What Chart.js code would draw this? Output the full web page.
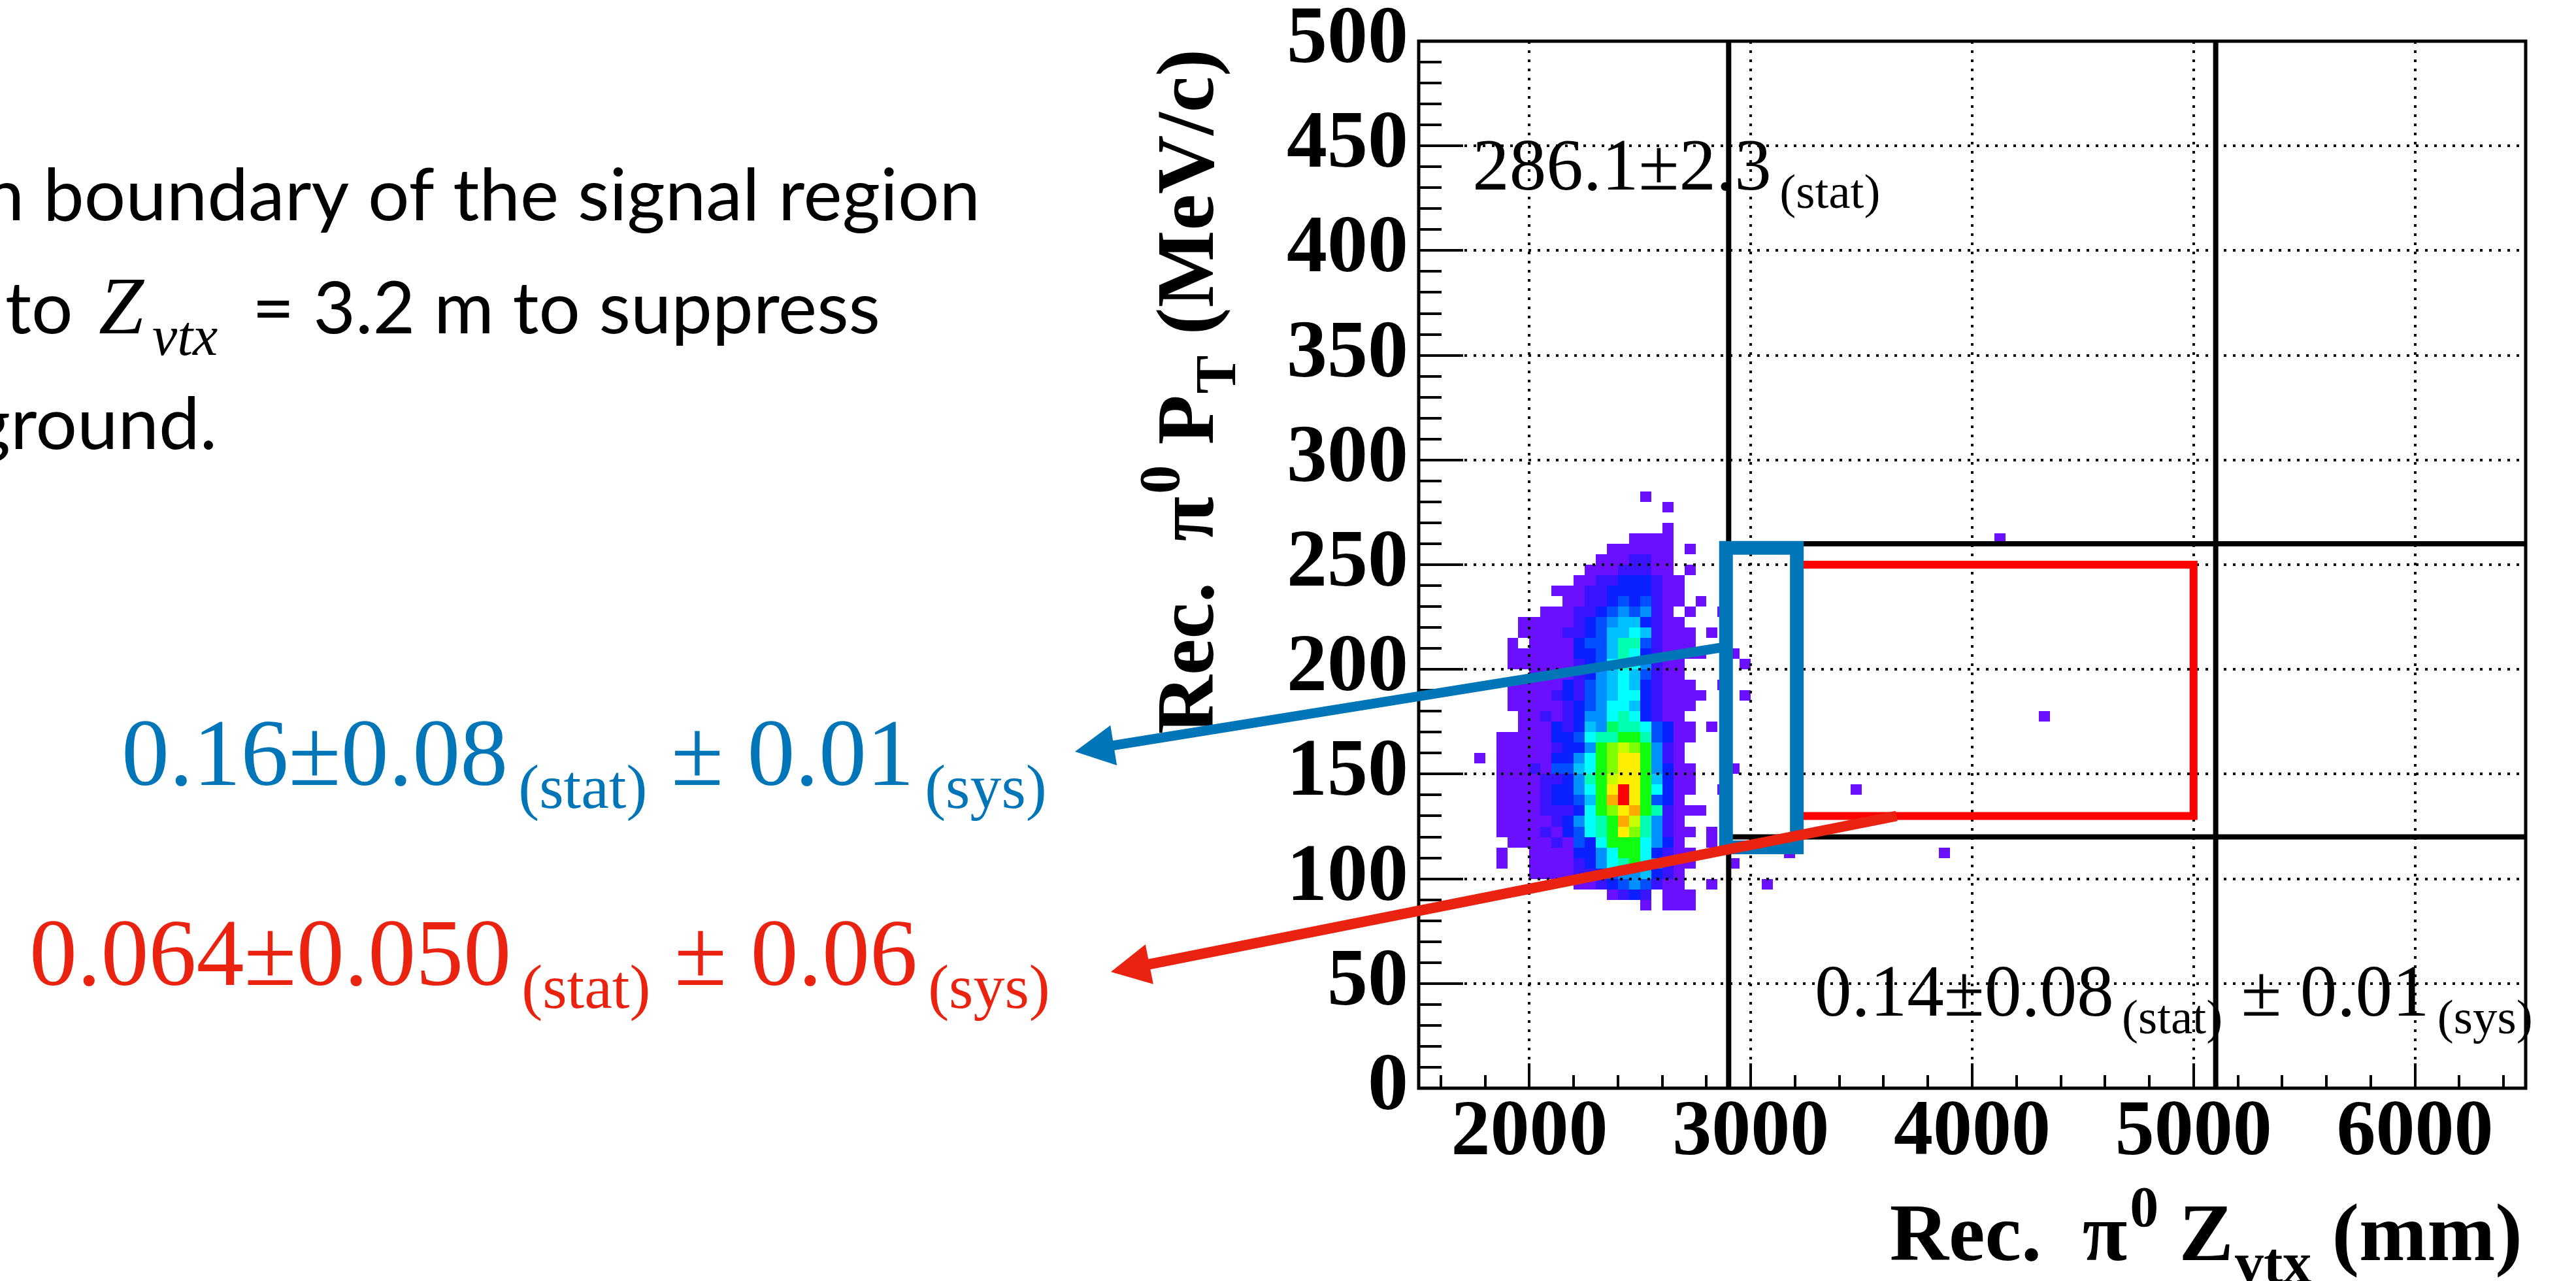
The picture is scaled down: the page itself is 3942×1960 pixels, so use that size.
<!DOCTYPE html>
<html>
<head>
<meta charset="utf-8">
<title>Rec. π0 PT vs Zvtx</title>
<script src="https://cdn.jsdelivr.net/npm/chart.js@4.4.1/dist/chart.umd.min.js"></script>
<style>
  html, body { margin: 0; padding: 0; background: #ffffff; }
  canvas { display: block; }
</style>
</head>
<body>
<canvas id="chart" width="3942" height="1960"></canvas>
<script>
// ---------------- histogram: Rec. pi0 Zvtx (mm) vs Rec. pi0 PT (MeV/c) ----------------
const zRange = [1500, 6500];
const ptRange = [0, 500];
const zBinWidth = 50;        // mm
const ptBinWidth = 5;        // MeV/c
const zFirstEdge = 1750;     // low edge of the first character in each row
const ptTopEdge = 280;       // low edge of the first (top) row

// one string per PT row, top to bottom; '.' = empty bin, '1'..'f' = colour level
const cellRows = [
  "...............1",                 // 280
  ".................1",               // 275
  "",                                 // 270
  ".................1",               // 265
  "..............1111",               // 260
  "............111111.1",             // 255
  "...........1112211",               // 250
  "..........11122211.1",             // 245
  ".........1122333211",              // 240
  ".......111223333211",              // 235
  "........11223434211.1",            // 230
  "......111223454521.1",             // 225
  "....111112345663211",              // 220
  "....1111223466762111.1",           // 215
  "...1.111134468842111",             // 210
  "...111111334687321111",            // 205
  "...1111112347875211",              // 200
  ".....11112356764211",              // 195
  "...11111324567632111",             // 190
  "...111123245677321111",            // 185
  "...11111234577632111",             // 180
  "....112123557873211",              // 175
  "....1113236598874311",             // 170
  "..11111334788aa84311",             // 165
  "..111112335abcba521",              // 160
  "..111113357abdda521",              // 155
  "..111214467abdda5311",             // 150
  "..111122358acdda6311",             // 145
  "..111123357adfda7311",             // 140
  "..111123346aefda431",              // 135
  "..111122237abdea82111",            // 130
  "..1111123578aec8521",              // 125
  "..1111213478adb85211.1",           // 120
  "...111121437aaa7531..1",           // 115
  "..1..11113357aa73211",             // 110
  "..1..111123578a75211",             // 105
  ".....11112234556321",              // 100
  ".........1123454211",              // 95
  "............1232.111",             // 90
  "...............1.111"              // 85
];

// isolated bins away from the main cluster: [Zvtx low edge, PT low edge, level]
const strayCells = [
  [1750, 155, 1], [2800, 170, 1], [2850, 225, 1], [2850, 190, 1], [2850, 140, 1],
  [2900, 205, 1], [2950, 200, 1], [2950, 185, 1], [2900, 150, 1], [2900, 105, 1],
  [2800, 95, 1], [3050, 95, 1], [3150, 110, 1],
  [3450, 140, 1], [3850, 110, 1], [4300, 175, 1], [4100, 260, 1]
];

const levelColours = [
  '#6b10ff', '#3a14ff', '#0a20ff', '#0050ff', '#0090ff', '#00c0ff', '#00ffff',
  '#00ffb0', '#00ff60', '#10ff10', '#80ff00', '#c8ff00', '#ffee00', '#ffaa00', '#ff0000'
];

// ---------------- axes ----------------
const zTickValues = [2000, 3000, 4000, 5000, 6000];
const ptTickValues = [0, 50, 100, 150, 200, 250, 300, 350, 400, 450, 500];
const zMinorStep = 200;
const ptMinorStep = 10;

// ---------------- signal-region cuts and boxes ----------------
const zCuts = [2900, 5100];
const ptCuts = [120, 260];
const redBoxZ = [3200, 5000];
const redBoxPt = [130, 250];
const blueBoxZ = [2888, 3208];
const blueBoxPt = [115, 258];

// ---------------- yields ----------------
const yieldTotal = ['286.1±2.3', '(stat)'];
const yieldOuter = ['0.14±0.08', '(stat)', ' ± 0.01', '(sys)'];
const yieldBlue = ['0.16±0.08', '(stat)', ' ± 0.01', '(sys)'];
const yieldRed = ['0.064±0.050', '(stat)', ' ± 0.06', '(sys)'];

const textLines = [
  'n boundary of the signal region',
  ['to ', 'Z', 'vtx', ' = 3.2 m to suppress'],
  'ground.'
];

const BLUE = '#0075b8';
const RED_BOX = '#ff0000';
const RED_ARROW = '#ea2210';
const SERIF = '"Liberation Serif", "Times New Roman", serif';
const SANS = 'Lato, "Open Sans", sans-serif';

function boxPath(zs, pts) {
  return [
    {x: zs[0], y: pts[1]}, {x: zs[1], y: pts[1]}, {x: zs[1], y: pts[0]},
    {x: zs[0], y: pts[0]}, {x: zs[0], y: pts[1]}
  ];
}

// heat-map cells (drawn first, so the grid and cut lines sit on top)
const heatmapPlugin = {
  id: 'heatmap',
  beforeDraw(chart) {
    const ctx = chart.ctx, xs = chart.scales.x, ys = chart.scales.y, a = chart.chartArea;
    ctx.save();
    ctx.fillStyle = '#ffffff';
    ctx.fillRect(0, 0, chart.width, chart.height);
    ctx.beginPath();
    ctx.rect(a.left, a.top, a.right - a.left, a.bottom - a.top);
    ctx.clip();
    const cell = (z0, pt0, lv) => {
      const x0 = Math.round(xs.getPixelForValue(z0));
      const x1 = Math.round(xs.getPixelForValue(z0 + zBinWidth));
      const y0 = Math.round(ys.getPixelForValue(pt0 + ptBinWidth));
      const y1 = Math.round(ys.getPixelForValue(pt0));
      ctx.fillStyle = levelColours[lv - 1];
      ctx.fillRect(x0, y0, x1 - x0, y1 - y0);
    };
    cellRows.forEach((row, r) => {
      const pt0 = ptTopEdge - r * ptBinWidth;
      for (let c = 0; c < row.length; c++) {
        const ch = row[c];
        if (ch === '.') continue;
        cell(zFirstEdge + c * zBinWidth, pt0, parseInt(ch, 16));
      }
    });
    strayCells.forEach(([z0, pt0, lv]) => cell(z0, pt0, lv));
    ctx.restore();
  }
};

// frame and inward ticks
const framePlugin = {
  id: 'frame',
  afterDatasetsDraw(chart) {
    const ctx = chart.ctx, xs = chart.scales.x, ys = chart.scales.y, a = chart.chartArea;
    ctx.save();
    ctx.strokeStyle = '#000';
    ctx.lineWidth = 4;
    ctx.beginPath();
    for (let v = ptRange[0] + ptMinorStep; v < ptRange[1]; v += ptMinorStep) {
      const y = Math.round(ys.getPixelForValue(v));
      const len = v % 50 === 0 ? 68 : 35;
      ctx.moveTo(a.left, y); ctx.lineTo(a.left + len, y);
    }
    for (let v = 1600; v < zRange[1]; v += zMinorStep) {
      const x = Math.round(xs.getPixelForValue(v));
      const len = v % 1000 === 0 ? 38 : 20;
      ctx.moveTo(x, a.bottom); ctx.lineTo(x, a.bottom - len);
    }
    ctx.stroke();
    ctx.lineWidth = 5;
    ctx.strokeRect(a.left, a.top, a.right - a.left, a.bottom - a.top);
    ctx.restore();
  }
};

function drawRuns(ctx, runs, x, baseline) {
  for (const r of runs) {
    x += r.gap || 0;
    ctx.font = r.font;
    ctx.fillText(r.text, x, baseline + (r.dy || 0));
    x += ctx.measureText(r.text).width;
  }
  return x;
}
function runsWidth(ctx, runs) {
  let w = 0;
  for (const r of runs) { ctx.font = r.font; w += (r.gap || 0) + ctx.measureText(r.text).width; }
  return w;
}
function yieldRuns(parts, size) {
  const sub = Math.round(size * 0.66);
  const runs = [];
  parts.forEach((p, i) => {
    if (i % 2 === 0) runs.push({text: p, font: `${size}px ${SERIF}`});
    else runs.push({text: p, font: `${sub}px ${SERIF}`, dy: size * 0.24, gap: size * 0.11});
  });
  return runs;
}
function titleRuns(main, sup, mid, sub, tail) {
  const s = 125, k = 88;
  const f = sz => `bold ${sz}px ${SERIF}`;
  return [
    {text: main, font: f(s)},
    {text: sup, font: f(k), dy: -s * 0.42, gap: 4},
    {text: mid, font: f(s)},
    {text: sub, font: f(k), dy: s * 0.27, gap: 2},
    {text: tail, font: f(s)}
  ];
}
function drawArrow(ctx, from, to, colour, width, headLen, headHalf) {
  const dx = from.x - to.x, dy = from.y - to.y, len = Math.hypot(dx, dy);
  const ux = dx / len, uy = dy / len;
  ctx.save();
  ctx.strokeStyle = colour; ctx.fillStyle = colour;
  ctx.lineWidth = width; ctx.lineCap = 'butt';
  ctx.beginPath();
  ctx.moveTo(from.x, from.y);
  ctx.lineTo(to.x + ux * (headLen - 4), to.y + uy * (headLen - 4));
  ctx.stroke();
  const bx = to.x + ux * headLen, by = to.y + uy * headLen;
  ctx.beginPath();
  ctx.moveTo(to.x, to.y);
  ctx.lineTo(bx - uy * headHalf, by + ux * headHalf);
  ctx.lineTo(bx + uy * headHalf, by - ux * headHalf);
  ctx.closePath();
  ctx.fill();
  ctx.restore();
}

// titles, yields, side text and arrows
const annotationPlugin = {
  id: 'annotations',
  afterDraw(chart) {
    const ctx = chart.ctx, xs = chart.scales.x, ys = chart.scales.y, a = chart.chartArea;
    ctx.save();
    ctx.textBaseline = 'alphabetic';
    ctx.textAlign = 'left';

    // axis titles
    ctx.fillStyle = '#000';
    const xt = titleRuns('Rec.  π', '0', ' Z', 'vtx', ' (mm)');
    drawRuns(ctx, xt, a.right - 5 - runsWidth(ctx, xt), 1928);
    const yt = titleRuns('Rec.  π', '0', ' P', 'T', ' (MeV/c)');
    ctx.save();
    ctx.translate(1856, a.top + 12);
    ctx.rotate(-Math.PI / 2);
    drawRuns(ctx, yt, -runsWidth(ctx, yt), 0);
    ctx.restore();

    // yields inside the frame
    drawRuns(ctx, yieldRuns(yieldTotal, 113), xs.getPixelForValue(1743), ys.getPixelForValue(429));
    drawRuns(ctx, yieldRuns(yieldOuter, 113), xs.getPixelForValue(3289), ys.getPixelForValue(34.6));

    // yields of the two highlighted regions
    ctx.fillStyle = BLUE;
    drawRuns(ctx, yieldRuns(yieldBlue, 146), 186, 1201);
    ctx.fillStyle = RED_ARROW;
    drawRuns(ctx, yieldRuns(yieldRed, 146), 45, 1507);

    // side text
    ctx.fillStyle = '#000';
    const sans = `110px ${SANS}`;
    ctx.font = sans;
    const wFull = ctx.measureText(textLines[0]).width;
    const wHead = ctx.measureText('n ').width;
    const sx = 1434 / (wFull - wHead);
    ctx.save();
    ctx.translate(66 - wHead * sx, 337);
    ctx.scale(sx, 1);
    ctx.fillText(textLines[0], 0, 0);
    ctx.restore();

    const l2 = textLines[1];
    ctx.save();
    ctx.translate(8, 510);
    ctx.scale(sx, 1);
    ctx.font = sans;
    ctx.fillText(l2[0], 0, 0);
    ctx.restore();
    ctx.font = `italic 124px ${SERIF}`;
    ctx.fillText(l2[1], 151, 510);
    ctx.font = `italic 86px ${SERIF}`;
    ctx.fillText(l2[2], 233, 543);
    ctx.save();
    ctx.font = sans;
    const w2 = ctx.measureText(l2[3]).width;
    const s2 = (1347 - 357) / w2;
    ctx.translate(357, 510);
    ctx.scale(s2, 1);
    ctx.fillText(l2[3], 0, 0);
    ctx.restore();

    ctx.save();
    ctx.font = sans;
    const wg = ctx.measureText('g').width;
    ctx.translate(20 - wg * sx - 4, 687);
    ctx.scale(sx, 1);
    ctx.fillText(textLines[2], 0, 0);
    ctx.restore();

    // arrows from the boxes to their yields
    const blueTail = {x: xs.getPixelForValue(2870), y: ys.getPixelForValue(210.5)};
    drawArrow(ctx, blueTail, {x: 1645, y: 1150}, BLUE, 15, 60, 31);
    const redTail = {x: xs.getPixelForValue(3658), y: ys.getPixelForValue(130)};
    drawArrow(ctx, redTail, {x: 1700, y: 1487}, RED_ARROW, 16, 60, 31);
    ctx.restore();
  }
};

const lineStyle = (colour, width, order, cap) => ({
  type: 'scatter', showLine: true, borderColor: colour, borderWidth: width,
  pointRadius: 0, pointHoverRadius: 0, fill: false, tension: 0, order,
  borderJoinStyle: 'miter', borderCapStyle: cap
});

const datasets = [
  ...zCuts.map(z => ({...lineStyle('#000', 8, 3, 'butt'), data: [{x: z, y: ptRange[0]}, {x: z, y: ptRange[1]}]})),
  ...ptCuts.map(p => ({...lineStyle('#000', 8, 3, 'butt'), data: [{x: zCuts[0], y: p}, {x: zRange[1], y: p}]})),
  {...lineStyle(RED_BOX, 12, 2, 'square'), data: boxPath(redBoxZ, redBoxPt)},
  {...lineStyle(BLUE, 21, 1, 'square'), data: boxPath(blueBoxZ, blueBoxPt)}
];

const tickFont = size => ({family: SERIF, weight: 'bold', size, lineHeight: 1});

new Chart(document.getElementById('chart'), {
  type: 'scatter',
  data: {datasets},
  options: {
    responsive: false,
    animation: false,
    devicePixelRatio: 1,
    events: [],
    layout: {padding: {left: 0, right: 77, top: 63, bottom: 0}},
    plugins: {legend: {display: false}, tooltip: {enabled: false}},
    scales: {
      x: {
        type: 'linear', min: zRange[0], max: zRange[1],
        afterBuildTicks(s) { s.ticks = zTickValues.map(v => ({value: v})); },
        afterFit(s) { s.height = 295; s.paddingLeft = 0; s.paddingRight = 0; },
        ticks: {font: tickFont(120), color: '#000', padding: 10, maxRotation: 0, autoSkip: false,
                callback: v => String(v)},
        grid: {color: '#000', lineWidth: 4, drawTicks: false},
        border: {display: false, dash: [4, 10]}
      },
      y: {
        type: 'linear', min: ptRange[0], max: ptRange[1],
        afterBuildTicks(s) { s.ticks = ptTickValues.map(v => ({value: v})); },
        afterFit(s) { s.width = 2171; s.paddingTop = 0; s.paddingBottom = 0; },
        ticks: {font: tickFont(124), color: '#000', padding: 16, autoSkip: false,
                callback: v => String(v)},
        grid: {color: '#000', lineWidth: 4, drawTicks: false},
        border: {display: false, dash: [4, 10]}
      }
    }
  },
  plugins: [heatmapPlugin, framePlugin, annotationPlugin]
});
</script>
</body>
</html>
